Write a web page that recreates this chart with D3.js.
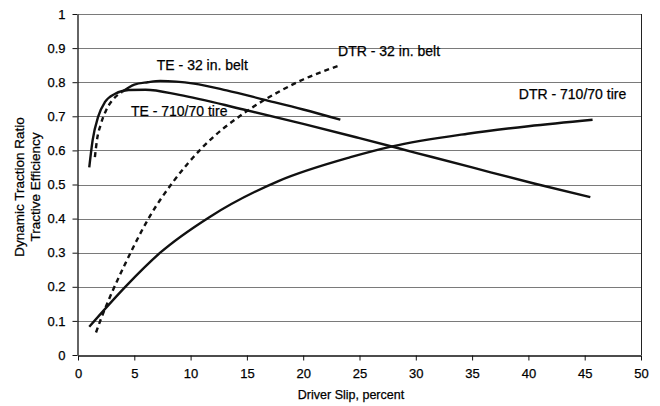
<!DOCTYPE html>
<html>
<head>
<meta charset="utf-8">
<script src="https://cdn.jsdelivr.net/npm/d3@7"></script>
<style>
  body { margin: 0; background: white; }
  text { font-family: "Liberation Sans", Arial, sans-serif; fill: #000; stroke: #000; stroke-width: 0.25px; }
</style>
</head>
<body>
<script>
// [slip %, value]
var te_belt = [[1.5,0.58],[1.7,0.634],[2.0,0.674],[2.5,0.718],[3.1,0.749],[3.9,0.771],[5,0.793],[6.2,0.80],[7.3,0.804],[10.3,0.796],[13.2,0.776],[16.5,0.749],[20,0.72],[23.3,0.69]]
var te_tire = [[1,0.55],[1.3,0.63],[1.8,0.70],[2.4,0.742],[3.3,0.766],[4.5,0.777],[6,0.778],[9,0.763],[14.7,0.72],[20,0.678],[25,0.636],[30,0.593],[35,0.55],[40.5,0.503],[45.5,0.463]]
var dtr_belt = [[1.6,0.066],[2.1,0.111],[3.1,0.19],[4.2,0.268],[5,0.322],[6.4,0.408],[8.5,0.51],[11,0.607],[14.9,0.713],[18,0.775],[20,0.808],[23.3,0.85]]
var dtr_tire = [[1,0.083],[4.2,0.2],[7.3,0.30],[11.7,0.405],[17.8,0.51],[24.2,0.58],[27.8,0.611],[34.6,0.649],[40,0.671],[45.7,0.69]]

var xTicks = [0,5,10,15,20,25,30,35,40,45,50]
var yTicks = [0,0.1,0.2,0.3,0.4,0.5,0.6,0.7,0.8,0.9,1]

var labels = [
	{text: "TE - 32 in. belt", x: 7.0, y: 0.837},
	{text: "TE - 710/70 tire", x: 4.7, y: 0.70},
	{text: "DTR - 32 in. belt", x: 23.1, y: 0.878},
	{text: "DTR - 710/70 tire", x: 39.15, y: 0.75}
]

var W = 660, H = 406
var svg = d3.select("body").append("svg").attr("width", W).attr("height", H)

var x = d3.scaleLinear().domain([0, 50]).range([78, 641])
var y = d3.scaleLinear().domain([0, 1]).range([355, 14])

// gridlines
svg.append("g").selectAll("line").data(yTicks.slice(1)).enter().append("line")
	.attr("x1", x(0)).attr("x2", x(50))
	.attr("y1", function(d) { return Math.round(y(d)) + 0.5 })
	.attr("y2", function(d) { return Math.round(y(d)) + 0.5 })
	.attr("stroke", "#7a7a7a").attr("stroke-width", 1)

// right border
svg.append("line").attr("x1", x(50) + 0.5).attr("x2", x(50) + 0.5)
	.attr("y1", y(1)).attr("y2", y(0)).attr("stroke", "#222")

// axes
var xAxis = svg.append("g").attr("transform", "translate(0," + (Math.round(y(0)) + 0.5) + ")")
	.call(d3.axisBottom(x).tickValues(xTicks).tickSize(5).tickSizeOuter(0).tickFormat(d3.format("d")))
var yAxis = svg.append("g").attr("transform", "translate(" + (x(0) - 0.5) + ",0)")
	.call(d3.axisLeft(y).tickValues(yTicks).tickSize(5).tickSizeOuter(0).tickFormat(function(d) { return d == 0 || d == 1 ? d : d.toFixed(1) }))

svg.selectAll(".domain").attr("stroke", "#111").attr("stroke-width", 1.3)
svg.selectAll(".tick line").attr("stroke", "#111")
xAxis.selectAll("text").attr("font-size", 13).attr("dy", "1.1em").style("font-family", "Liberation Sans, Arial")
yAxis.selectAll("text").attr("font-size", 13).attr("x", -12).style("font-family", "Liberation Sans, Arial")

// axis titles
svg.append("text").text("Driver Slip, percent")
	.attr("x", 351).attr("y", 399).attr("text-anchor", "middle").attr("font-size", 12.5)

var yt = svg.append("text").attr("transform", "translate(0,187) rotate(-90)")
	.attr("text-anchor", "middle").attr("font-size", 13.5)
yt.append("tspan").attr("x", 0).attr("y", 24).text("Dynamic Traction Ratio")
yt.append("tspan").attr("x", 0).attr("y", 40).text("Tractive Efficiency")

// curves
var line = d3.line()
	.x(function(d) { return x(d[0]) })
	.y(function(d) { return y(d[1]) })
	.curve(d3.curveMonotoneX)

function drawCurve(data, dashUntil) {
	var dashed = data.filter(function(d) { return d[0] <= dashUntil })
	var solid = data.filter(function(d) { return d[0] >= dashUntil })
	if (dashed.length > 1) {
		svg.append("path").datum(dashed).attr("d", line)
			.attr("fill", "none").attr("stroke", "#111").attr("stroke-width", 2.4)
			.attr("stroke-dasharray", "5,4")
	}
	if (solid.length > 1) {
		svg.append("path").datum(solid).attr("d", line)
			.attr("fill", "none").attr("stroke", "#111").attr("stroke-width", 2.4)
	}
}

drawCurve(te_tire, 0)
drawCurve(dtr_tire, 0)
drawCurve(te_belt, 3.9)
drawCurve(dtr_belt, 100)

// curve labels
svg.append("g").selectAll("text").data(labels).enter().append("text")
	.text(function(d) { return d.text })
	.attr("x", function(d) { return x(d.x) })
	.attr("y", function(d) { return y(d.y) })
	.attr("font-size", 14)
</script>
</body>
</html>
